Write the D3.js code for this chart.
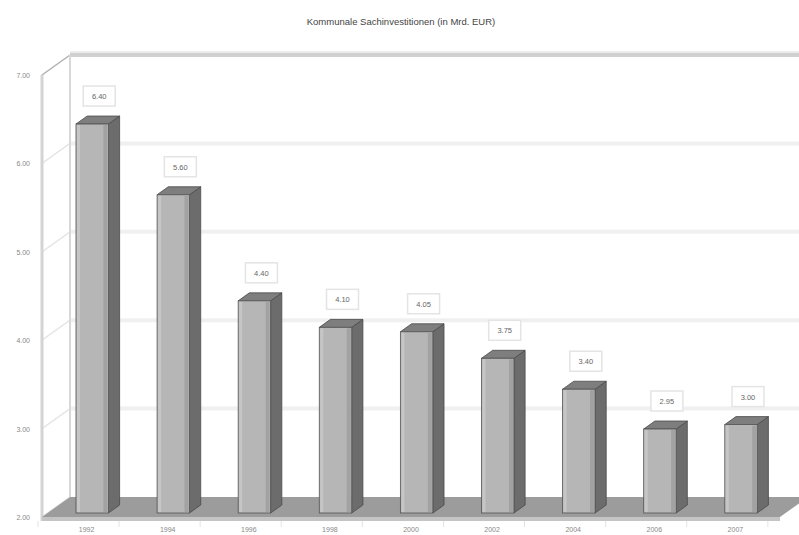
<!DOCTYPE html>
<html>
<head>
<meta charset="utf-8">
<script src="https://cdn.jsdelivr.net/npm/d3@7"></script>
<style>
  html, body { margin: 0; padding: 0; background: #fff; }
  svg { display: block; font-family: "Liberation Sans", Arial, sans-serif; }
</style>
</head>
<body>
<svg id="chart" width="799" height="535"></svg>
<script>
// Kommunale Sachinvestitionen, Mrd. EUR
const years  = ["1992", "1994", "1996", "1998", "2000", "2002", "2004", "2006", "2007"];
const values = [6.40, 5.60, 4.40, 4.10, 4.05, 3.75, 3.40, 2.95, 3.00];
const yTicks = [2, 3, 4, 5, 6, 7];
const title  = "Kommunale Sachinvestitionen (in Mrd. EUR)";

const W = 799, H = 535;
const svg = d3.select("#chart");

// front plane of the 3D box
const x = d3.scaleBand()
  .domain(years)
  .range([42, 780])
  .paddingInner(0.6)
  .paddingOuter(0.35);
const y = d3.scaleLinear().domain([2, 7]).range([517, 75]);

// depth vector of the box (front -> back wall)
const DX = 28, DY = -20;
const fFront = 0.2, fBack = 0.6;

const fmt = d3.format(".2f");

// title
svg.append("text")
  .attr("x", 401).attr("y", 25)
  .attr("text-anchor", "middle")
  .attr("font-size", 9.5)
  .attr("fill", "#444")
  .text(title);

// back wall gridlines
const g = svg.append("g");
g.selectAll("line.grid")
  .data(yTicks.slice(1, -1))
  .join("line")
  .attr("class", "grid")
  .attr("x1", 42 + DX).attr("x2", W)
  .attr("y1", d => y(d) + DY).attr("y2", d => y(d) + DY)
  .attr("stroke", "#f0f0f0").attr("stroke-width", 4);

// top edge of back wall
g.append("line")
  .attr("x1", 42 + DX).attr("x2", W)
  .attr("y1", y(7) + DY).attr("y2", y(7) + DY)
  .attr("stroke", "#d0d0d0").attr("stroke-width", 4);
g.append("line")
  .attr("x1", 42 + DX).attr("x2", W)
  .attr("y1", y(7) + DY - 3).attr("y2", y(7) + DY - 3)
  .attr("stroke", "#ececec").attr("stroke-width", 2);

// left wall: diagonal grid segments
g.selectAll("line.side")
  .data(yTicks)
  .join("line")
  .attr("class", "side")
  .attr("x1", 42).attr("x2", 42 + DX)
  .attr("y1", d => y(d)).attr("y2", d => y(d) + DY)
  .attr("stroke", d => d === 7 ? "#b0b0b0" : "#e6e6e6")
  .attr("stroke-width", 1.5);

// left wall verticals
g.append("line")
  .attr("x1", 42 + DX).attr("x2", 42 + DX)
  .attr("y1", y(7) + DY).attr("y2", y(2) + DY)
  .attr("stroke", "#d8d8d8").attr("stroke-width", 2);
g.append("line")
  .attr("x1", 42).attr("x2", 42)
  .attr("y1", y(7)).attr("y2", y(2) + 4)
  .attr("stroke", "#d4d4d4").attr("stroke-width", 3);

// y axis tick labels
svg.selectAll("text.ytick")
  .data(yTicks)
  .join("text")
  .attr("class", "ytick")
  .attr("x", 30).attr("y", d => y(d) + 3)
  .attr("text-anchor", "end")
  .attr("font-size", 7)
  .attr("fill", "#888")
  .text(d => fmt(d));

// floor
const y0 = y(2);
svg.append("polygon")
  .attr("points", [[42, y0], [780, y0], [780 + DX, y0 + DY], [42 + DX, y0 + DY]].join(" "))
  .attr("fill", "#9c9c9c");
svg.append("polygon")
  .attr("points", [[42, y0], [780, y0], [780, y0 + 4], [42, y0 + 4]].join(" "))
  .attr("fill", "#c4c4c4");

// category ticks under the floor
svg.selectAll("line.xtick")
  .data(d3.range(years.length + 1))
  .join("line")
  .attr("class", "xtick")
  .attr("x1", i => 42 + i * x.step() - x.step() * 0.05)
  .attr("x2", i => 42 + i * x.step() - x.step() * 0.05)
  .attr("y1", y0 + 4).attr("y2", y0 + 10)
  .attr("stroke", "#e4e4e4");

// x labels
svg.selectAll("text.xlab")
  .data(years)
  .join("text")
  .attr("class", "xlab")
  .attr("x", d => x(d) + x.bandwidth() / 2)
  .attr("y", 532)
  .attr("text-anchor", "middle")
  .attr("font-size", 7)
  .attr("fill", "#888")
  .text(d => d);

// bars
const fx = DX * fFront, fy = DY * fFront;
const bx = DX * (fBack - fFront), by = DY * (fBack - fFront);
const data = years.map((yr, i) => ({ yr, v: values[i] }));

const bars = svg.append("g").selectAll("g.bar")
  .data(data)
  .join("g")
  .attr("class", "bar");

bars.each(function (d) {
  const gg = d3.select(this);
  const L = x(d.yr) + fx, R = L + x.bandwidth();
  const T = y(d.v) + fy, B = y(2) + fy;
  // side face
  gg.append("polygon")
    .attr("points", [[R, T], [R + bx, T + by], [R + bx, B + by], [R, B]].join(" "))
    .attr("fill", "#6c6c6c").attr("stroke", "#4a4a4a").attr("stroke-width", 0.8);
  // top face
  gg.append("polygon")
    .attr("points", [[L, T], [L + bx, T + by], [R + bx, T + by], [R, T]].join(" "))
    .attr("fill", "#7e7e7e").attr("stroke", "#4a4a4a").attr("stroke-width", 0.8);
  // front face
  gg.append("rect")
    .attr("x", L).attr("y", T).attr("width", R - L).attr("height", B - T)
    .attr("fill", "#b6b6b6").attr("stroke", "#555").attr("stroke-width", 0.8);
  gg.append("rect")
    .attr("x", L + 1).attr("y", T + 1).attr("width", 3).attr("height", B - T - 2)
    .attr("fill", "#c6c6c6");
  gg.append("rect")
    .attr("x", R - 5).attr("y", T + 1).attr("width", 4).attr("height", B - T - 2)
    .attr("fill", "#a2a2a2");

  // value label
  const cx = L + x.bandwidth() / 2 + 7, cy = T + by - 20;
  gg.append("rect")
    .attr("x", cx - 16).attr("y", cy - 10).attr("width", 32).attr("height", 20)
    .attr("fill", "#fff").attr("stroke", "#e4e4e4").attr("stroke-width", 1.5);
  gg.append("text")
    .attr("x", cx).attr("y", cy + 3)
    .attr("text-anchor", "middle")
    .attr("font-size", 7.5)
    .attr("fill", "#666")
    .text(fmt(d.v));
});
</script>
</body>
</html>
